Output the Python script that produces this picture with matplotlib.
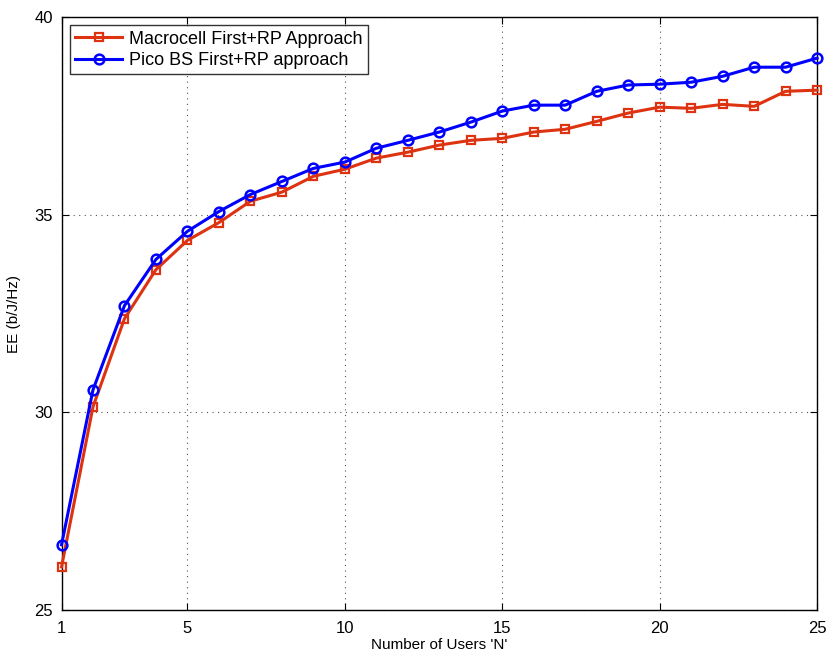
import matplotlib
matplotlib.use("Agg")
import matplotlib.pyplot as plt

users = list(range(1, 26))
macro_ee = [26.09, 30.14, 32.37, 33.61, 34.35, 34.80, 35.34, 35.57, 35.97, 36.15,
            36.43, 36.58, 36.76, 36.88, 36.93, 37.09, 37.16, 37.36, 37.57, 37.72,
            37.69, 37.79, 37.74, 38.12, 38.15]
pico_ee = [26.65, 30.57, 32.70, 33.87, 34.58, 35.08, 35.51, 35.84, 36.17, 36.33,
           36.68, 36.88, 37.09, 37.34, 37.62, 37.77, 37.77, 38.12, 38.28, 38.30,
           38.35, 38.50, 38.73, 38.73, 38.96]
xticks = [1, 5, 10, 15, 20, 25]
yticks = [25, 30, 35, 40]
labels = ["Macrocell First+RP Approach", "Pico BS First+RP approach"]

plt.rcParams['font.family'] = ['Liberation Sans', 'DejaVu Sans']

fig = plt.figure(figsize=(8.27, 6.56), dpi=100)
ax = fig.add_axes([0.0744, 0.0701, 0.9136, 0.904])

ax.plot(users, macro_ee, color='#DD3311', lw=2.2, marker='s', ms=6,
        mfc='none', mew=1.6, label=labels[0], clip_on=False, zorder=3)
ax.plot(users, pico_ee, color='#0000FF', lw=2.2, marker='o', ms=7,
        mfc='none', mew=1.8, label=labels[1], clip_on=False, zorder=3)

ax.set_xlim(1, 25)
ax.set_ylim(25, 40)
ax.set_xticks(xticks)
ax.set_yticks(yticks)
ax.tick_params(direction='in', labelsize=12, length=5, top=True, right=True)
ax.tick_params(axis='x', pad=8)
ax.tick_params(axis='y', pad=6)
ax.grid(True, linestyle=(0, (1, 4)), color='#555555', lw=0.8)
for s in ax.spines.values():
    s.set_linewidth(1.0)

ax.set_xlabel("Number of Users 'N'", fontsize=11, labelpad=1)
ax.set_ylabel("EE (b/J/Hz)", fontsize=11, labelpad=10)

leg = ax.legend(loc='upper left', fontsize=13, frameon=True, fancybox=False,
                edgecolor='black', borderaxespad=0.45, handlelength=2.6,
                borderpad=0.3, labelspacing=0.25, handletextpad=0.4)
leg.get_frame().set_linewidth(1.0)

fig.savefig("out.png", dpi=100)
